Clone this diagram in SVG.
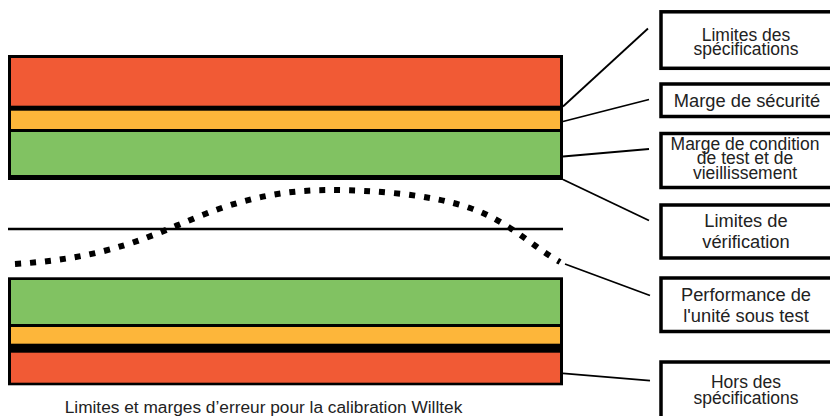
<svg xmlns="http://www.w3.org/2000/svg" width="830" height="416" viewBox="0 0 830 416">
<style>
.box{fill:#fff;stroke:#000;stroke-width:3.5}
.t{font-family:"Liberation Sans",Arial,sans-serif;font-size:18.3px;fill:#222;text-anchor:middle}
.tc{font-size:17.5px}
.c{stroke:#000;stroke-width:1.8;fill:none}
.red{fill:#f15a35}
.org{fill:#fdb63a}
.grn{fill:#81c262}
</style>
<rect width="830" height="416" fill="#fff"/>
<g id="top-block">
<rect x="8" y="55" width="555" height="125" fill="#000"/>
<rect class="red" x="11" y="58" width="549" height="47.7"/>
<rect class="org" x="11" y="110.7" width="549" height="18.3"/>
<rect class="grn" x="11" y="132" width="549" height="43"/>
</g>
<g id="bottom-block">
<rect x="8" y="277.3" width="555" height="108" fill="#000"/>
<rect class="grn" x="11" y="280" width="549" height="44"/>
<rect class="org" x="11" y="327" width="549" height="16.7"/>
<rect class="red" x="11" y="352.7" width="549" height="30"/>
</g>
<g id="verification-line">
<line x1="8" y1="229" x2="563" y2="229" stroke="#000" stroke-width="2.6"/>
</g>
<g id="performance-curve">
<path d="M15 264 C 110 258, 150 236, 200 216 S 290 190, 330 190 S 430 194, 470 208 S 530 245, 560 262" fill="none" stroke="#000" stroke-width="6" stroke-dasharray="6 9"/>
</g>
<g id="connectors">
<line class="c" x1="563" y1="106.5" x2="648" y2="28.5"/>
<line class="c" x1="563" y1="121.5" x2="649" y2="99.5"/>
<line class="c" x1="563" y1="156.5" x2="649" y2="149"/>
<line class="c" x1="563" y1="179.5" x2="649" y2="220.5"/>
<line class="c" x1="565" y1="264" x2="650" y2="295.5"/>
<line class="c" x1="563" y1="373.3" x2="650" y2="380.7"/>
</g>
<g id="n-spec">
<rect class="box" x="661" y="11.8" width="240" height="56.5"/>
<text class="t tc" x="746" y="41">Limites des</text>
<text class="t tc" x="746" y="55">spécifications</text>
</g>
<g id="n-securite">
<rect class="box" x="661" y="84" width="240" height="32.5"/>
<text class="t" x="747" y="106.7">Marge de sécurité</text>
</g>
<g id="n-condition">
<rect class="box" x="661" y="133.5" width="240" height="54"/>
<text class="t tc" x="745" y="149.5">Marge de condition</text>
<text class="t tc" x="745" y="164">de test et de</text>
<text class="t tc" x="745" y="179">vieillissement</text>
</g>
<g id="n-verif">
<rect class="box" x="661" y="205" width="240" height="53"/>
<text class="t" x="746" y="226.7">Limites de</text>
<text class="t" x="746" y="248.3">vérification</text>
</g>
<g id="n-perf">
<rect class="box" x="661" y="278" width="240" height="53.5"/>
<text class="t" x="746" y="300.7">Performance de</text>
<text class="t" x="746" y="322.3">l'unité sous test</text>
</g>
<g id="n-hors">
<rect class="box" x="661" y="362" width="240" height="80"/>
<text class="t tc" x="746" y="388">Hors des</text>
<text class="t tc" x="746" y="404">spécifications</text>
</g>
<g id="caption">
<text class="t" x="263.5" y="413" style="font-size:17.3px">Limites et marges d’erreur pour la calibration Willtek</text>
</g>
</svg>
